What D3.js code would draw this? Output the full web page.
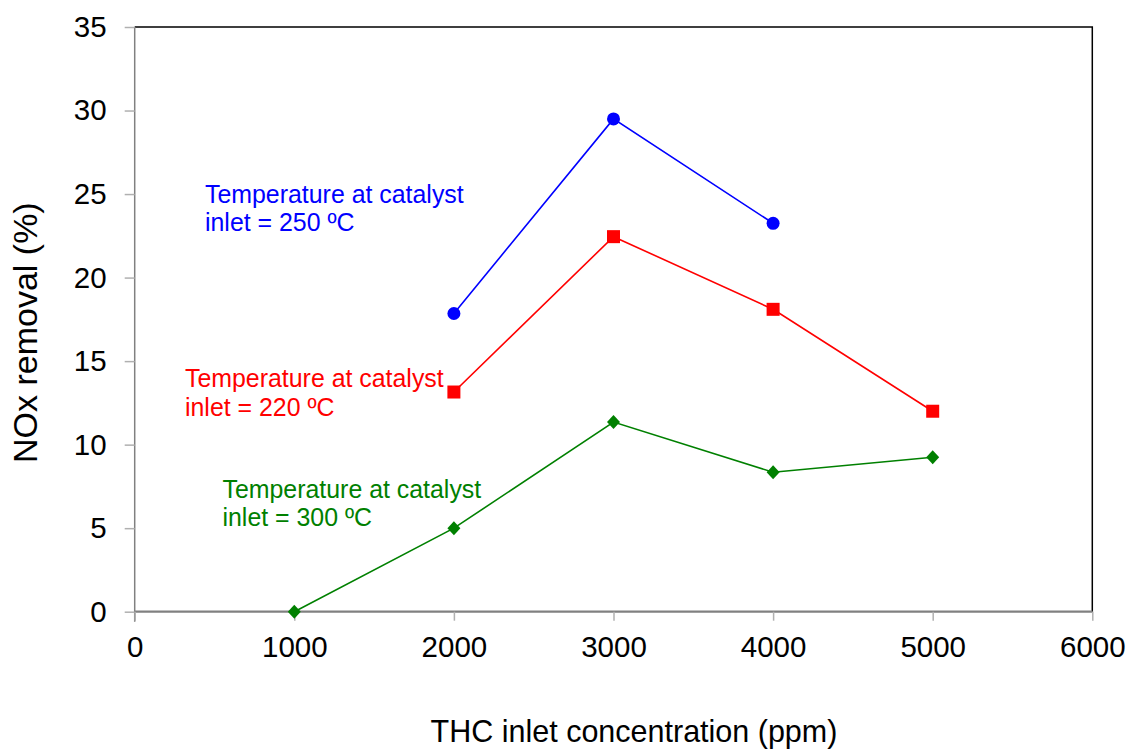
<!DOCTYPE html>
<html>
<head>
<meta charset="utf-8">
<script src="https://cdn.jsdelivr.net/npm/d3@7"></script>
<style>
  html, body { margin: 0; padding: 0; background: #fff; }
  svg { display: block; }
  text { font-family: "Liberation Sans", Arial, sans-serif; }
</style>
</head>
<body>
<svg id="chart" width="1132" height="751"></svg>
<script>
// ---- data ----
const xTicks = [0, 1000, 2000, 3000, 4000, 5000, 6000];
const yTicks = [0, 5, 10, 15, 20, 25, 30, 35];

const blueX = [2000, 3000, 4000];
const blueY = [17.85, 29.5, 23.25];

const redX = [2000, 3000, 4000, 5000];
const redY = [13.15, 22.45, 18.1, 12.0];

const greenX = [1000, 2000, 3000, 4000, 5000];
const greenY = [0, 5.0, 11.35, 8.35, 9.25];

const labelBlue = ["Temperature at catalyst", "inlet = 250 ºC"];
const labelRed = ["Temperature at catalyst", "inlet = 220 ºC"];
const labelGreen = ["Temperature at catalyst", "inlet = 300 ºC"];

const xTitle = "THC inlet concentration (ppm)";
const yTitle = "NOx removal (%)";

// ---- layout ----
const svg = d3.select("#chart");
const pL = 134.7, pR = 1092.3, pT = 27, pB = 611.7;

const x = d3.scaleLinear().domain([0, 6000]).range([pL, pR]);
const y = d3.scaleLinear().domain([0, 35]).range([pB, pT]);

// frame top/right (black)
svg.append("path")
  .attr("d", `M${pL},${pT}H${pR}V${pB}`)
  .attr("fill", "none").attr("stroke", "#000").attr("stroke-width", 1.5);

// Y axis
const yAxis = svg.append("g").attr("transform", `translate(${pL},0)`)
  .call(d3.axisLeft(y).tickValues(yTicks).tickSize(10).tickPadding(18).tickFormat(d3.format("d")));
yAxis.select(".domain").attr("stroke", "#808080").attr("stroke-width", 1.5)
  .attr("d", `M0,${pT}V${pB + 10}`);
yAxis.selectAll(".tick line").attr("stroke", "#b0b0b0").attr("stroke-width", 1.5);
yAxis.selectAll(".tick text").attr("font-size", 29.5).attr("fill", "#000")
  .attr("font-family", "Liberation Sans, Arial, sans-serif");

// X axis
const xAxis = svg.append("g").attr("transform", `translate(0,${pB})`)
  .call(d3.axisBottom(x).tickValues(xTicks).tickSize(9).tickPadding(15).tickFormat(d3.format("d")));
xAxis.select(".domain").attr("stroke", "#808080").attr("stroke-width", 2.2)
  .attr("d", `M${pL},0H${pR}`);
xAxis.selectAll(".tick line").attr("stroke", "#b0b0b0").attr("stroke-width", 1.5);
xAxis.selectAll(".tick text").attr("font-size", 29.5).attr("fill", "#000")
  .attr("font-family", "Liberation Sans, Arial, sans-serif");

// axis titles
svg.append("text").attr("x", 634).attr("y", 742)
  .attr("text-anchor", "middle").attr("font-size", 30.5).text(xTitle);
svg.append("text")
  .attr("transform", `translate(37,463) rotate(-90)`)
  .attr("text-anchor", "start").attr("font-size", 34).text(yTitle);

// series
const line = d3.line().x(d => x(d[0])).y(d => y(d[1]));
function series(xs, ys, color) {
  const pts = xs.map((v, i) => [v, ys[i]]);
  svg.append("path").datum(pts).attr("d", line)
    .attr("fill", "none").attr("stroke", color).attr("stroke-width", 1.6);
  return pts;
}
const bPts = series(blueX, blueY, "#0000ff");
const rPts = series(redX, redY, "#ff0000");
const gPts = series(greenX, greenY, "#008000");

svg.selectAll(".mb").data(bPts).enter().append("circle")
  .attr("cx", d => x(d[0])).attr("cy", d => y(d[1])).attr("r", 6.5).attr("fill", "#0000ff");
svg.selectAll(".mr").data(rPts).enter().append("rect")
  .attr("x", d => x(d[0]) - 6.5).attr("y", d => y(d[1]) - 6.5)
  .attr("width", 13).attr("height", 13).attr("fill", "#ff0000");
svg.selectAll(".mg").data(gPts).enter().append("path")
  .attr("transform", d => `translate(${x(d[0])},${y(d[1])})`)
  .attr("d", "M0,-7L6.5,0L0,7L-6.5,0Z").attr("fill", "#008000");

// annotations
function label(lines, lx, ly, color) {
  const t = svg.append("text").attr("font-size", 24.9).attr("fill", color);
  lines.forEach((s, i) => t.append("tspan").attr("x", lx).attr("y", ly + i * 28.5).text(s));
}
label(labelBlue, 205, 202.5, "#0000ff");
label(labelRed, 185, 387, "#ff0000");
label(labelGreen, 222.5, 497.5, "#008000");
</script>
</body>
</html>
